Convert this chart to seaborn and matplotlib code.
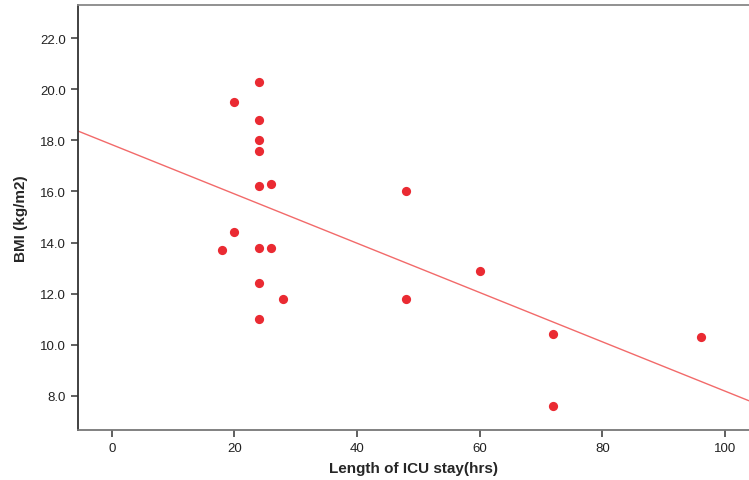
import numpy as np
import pandas as pd
import matplotlib
matplotlib.use("Agg")
import matplotlib.pyplot as plt
import seaborn as sns

icu_hours = [24, 20, 24, 24, 24, 24, 26, 48, 20, 18, 24, 26, 60, 24, 28, 48, 24, 72, 96, 72]
bmi = [20.3, 19.5, 18.8, 18.0, 17.6, 16.2, 16.3, 16.0, 14.4, 13.7, 13.8, 13.8, 12.9, 12.4, 11.8, 11.8, 11.0, 10.4, 10.3, 7.6]
x_ticks = [0, 20, 40, 60, 80, 100]
y_ticks = [8.0, 10.0, 12.0, 14.0, 16.0, 18.0, 20.0, 22.0]

df = pd.DataFrame({"icu": icu_hours, "bmi": bmi})

sns.set_style("white")
plt.rcParams["font.family"] = ["Liberation Sans", "DejaVu Sans"]

fig = plt.figure(figsize=(7.49, 4.81), dpi=100)
ax = fig.add_axes([78/749, 1-431/481, 1-78/749, (431-6)/481])
ax.set_xlim(-5.5, 103.9)
ax.set_ylim(6.66, 23.3)

t = np.linspace(0, 2*np.pi, 40)
ell = np.c_[1.4*np.cos(t), np.sin(t)]

sns.regplot(data=df, x="icu", y="bmi", ax=ax, ci=None, truncate=False,
            scatter_kws=dict(color="#EA2A32", s=44, marker=ell, linewidths=0, alpha=1, zorder=3),
            line_kws=dict(color="#F26A6A", lw=1.0, zorder=2))

ax.set_xticks(x_ticks)
ax.set_yticks(y_ticks)
ax.set_yticklabels([f"{v:.1f}" for v in y_ticks])
ax.tick_params(axis="both", direction="out", length=5, width=1.2, color="#444444",
               labelsize=9.5, labelcolor="#222222", bottom=True, left=True)
ax.spines["right"].set_visible(False)
ax.spines["left"].set_color("#333333")
ax.spines["bottom"].set_color("#777777")
ax.spines["top"].set_color("#888888")
for s in ax.spines.values():
    s.set_linewidth(1.3)
ax.set_xlabel("Length of ICU stay(hrs)", fontsize=11, fontweight="bold", labelpad=5)
ax.set_ylabel("BMI (kg/m2)", fontsize=11, fontweight="bold", labelpad=9)

fig.savefig("out.png", dpi=100)
